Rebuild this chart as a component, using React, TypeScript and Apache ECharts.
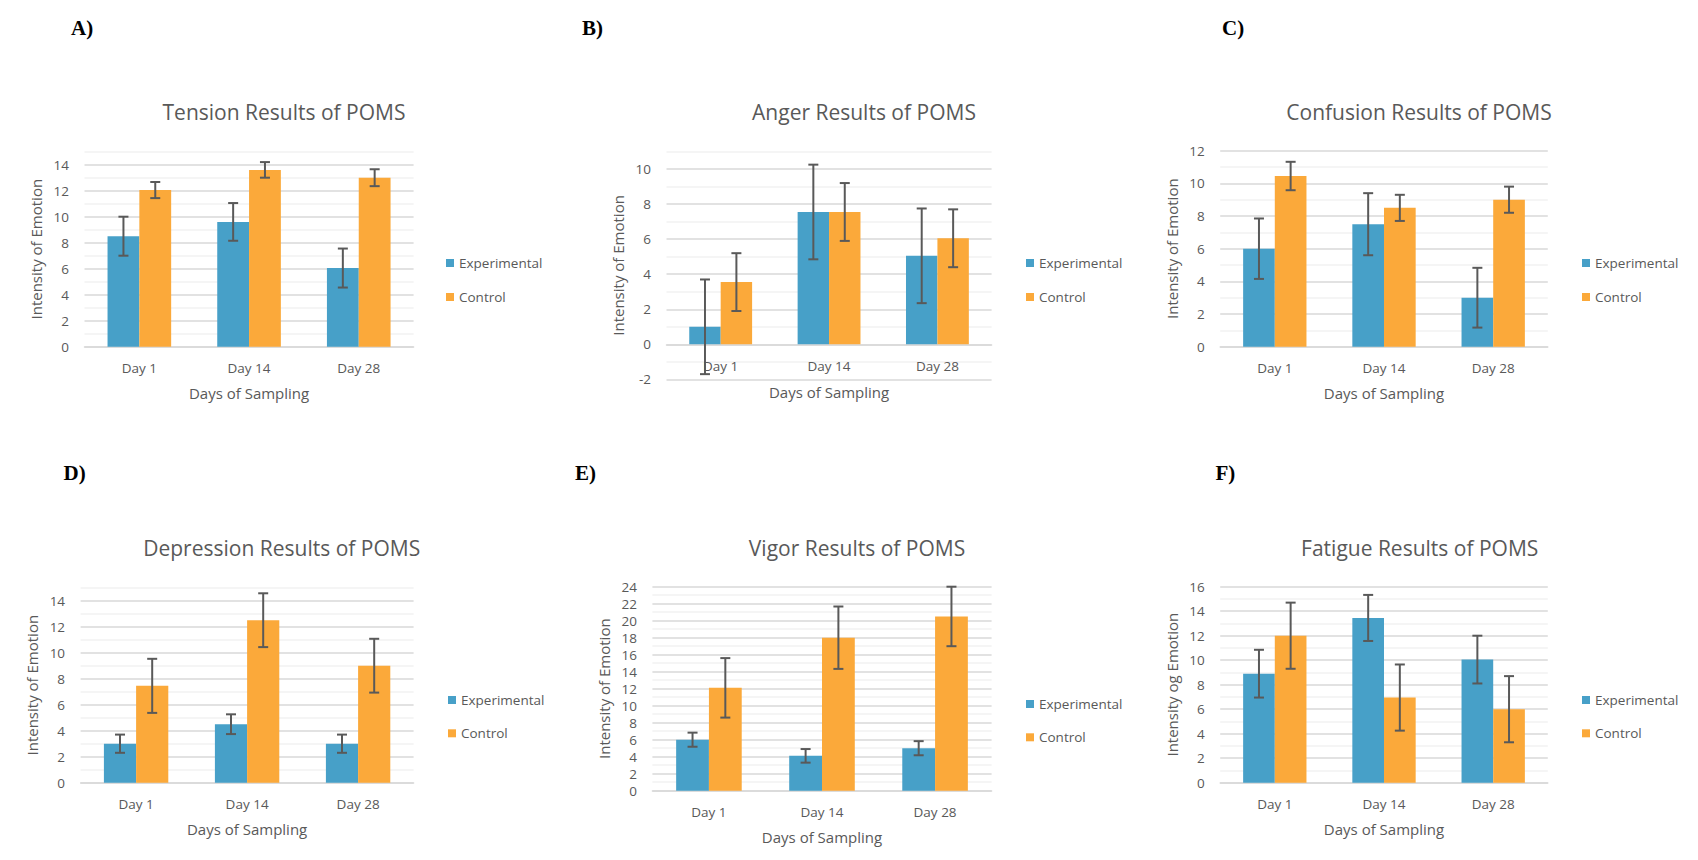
import React, { useEffect, useRef } from "react";
import * as echarts from "echarts";

// ---------- data ----------
const categories = ["Day 1", "Day 14", "Day 28"];
const seriesNames = ["Experimental", "Control"];

const tensionExp = [8.5, 9.6, 6.05];
const tensionExpErr = [1.5, 1.45, 1.5];
const tensionCtrl = [12.05, 13.6, 13.0];
const tensionCtrlErr = [0.62, 0.6, 0.65];

const angerExp = [1.0, 7.55, 5.05];
const angerExpErr = [2.7, 2.7, 2.7];
const angerCtrl = [3.55, 7.55, 6.05];
const angerCtrlErr = [1.65, 1.65, 1.65];

const confusionExp = [6.0, 7.5, 3.0];
const confusionExpErr = [1.85, 1.9, 1.83];
const confusionCtrl = [10.45, 8.5, 9.0];
const confusionCtrlErr = [0.87, 0.8, 0.8];

const depressionExp = [3.0, 4.5, 3.0];
const depressionExpErr = [0.7, 0.76, 0.7];
const depressionCtrl = [7.45, 12.5, 9.0];
const depressionCtrlErr = [2.08, 2.07, 2.07];

const vigorExp = [6.0, 4.1, 5.0];
const vigorExpErr = [0.83, 0.8, 0.83];
const vigorCtrl = [12.1, 18.0, 20.5];
const vigorCtrlErr = [3.5, 3.67, 3.5];

const fatigueExp = [8.9, 13.45, 10.05];
const fatigueExpErr = [1.95, 1.88, 1.95];
const fatigueCtrl = [12.0, 6.95, 6.0];
const fatigueCtrlErr = [2.7, 2.7, 2.7];

const panelLetters = ["A)", "B)", "C)", "D)", "E)", "F)"];
const panelTitles = [
  "Tension Results of POMS",
  "Anger Results of POMS",
  "Confusion Results of POMS",
  "Depression Results of POMS",
  "Vigor Results of POMS",
  "Fatigue Results of POMS",
];
const yAxisNames = [
  "Intensity of Emotion",
  "Intensity of Emotion",
  "Intensity of Emotion",
  "Intensity of Emotion",
  "Intensity of Emotion",
  "Intensity og Emotion",
];
const yMins = [0, -2, 0, 0, 0, 0];
const yMaxs = [15, 11, 12, 15, 24, 16];
const xAxisName = "Days of Sampling";

const panelData = [
  [tensionExp, tensionExpErr, tensionCtrl, tensionCtrlErr],
  [angerExp, angerExpErr, angerCtrl, angerCtrlErr],
  [confusionExp, confusionExpErr, confusionCtrl, confusionCtrlErr],
  [depressionExp, depressionExpErr, depressionCtrl, depressionCtrlErr],
  [vigorExp, vigorExpErr, vigorCtrl, vigorCtrlErr],
  [fatigueExp, fatigueExpErr, fatigueCtrl, fatigueCtrlErr],
];

// ---------- layout / style ----------
const layout = [
  { grid: { left: 84.5, top: 151.7, width: 329.1, height: 195 }, title: [284, 112], letter: [71, 28], legend: [446, 256, 20] },
  { grid: { left: 666.5, top: 151.5, width: 325.1, height: 227.9 }, title: [864, 112], letter: [582, 28], legend: [1026, 256, 20] },
  { grid: { left: 1220.2, top: 150.7, width: 327.6, height: 196 }, title: [1419, 112], letter: [1222, 28], legend: [1582, 256, 20] },
  { grid: { left: 80.6, top: 587.7, width: 333, height: 195 }, title: [281.7, 548.3], letter: [63.5, 473.3], legend: [448, 693, 19.3] },
  { grid: { left: 652.4, top: 586.7, width: 339.2, height: 204 }, title: [857, 548.3], letter: [575, 473.3], legend: [1026, 697, 19.3] },
  { grid: { left: 1220.2, top: 586.7, width: 327.6, height: 196 }, title: [1419.7, 548.3], letter: [1215.5, 473.3], legend: [1582, 693, 19.3] },
];

const BLUE = "#47A0C8";
const ORANGE = "#FBA93A";
const TEXT = "#595959";
const FONT = "'Open Sans', 'Noto Sans', sans-serif";
const GAP = 0.42;

function buildOption() {
  const grid: any[] = [];
  const xAxis: any[] = [];
  const yAxis: any[] = [];
  const series: any[] = [];
  const legend: any[] = [];
  const graphic: any[] = [];

  layout.forEach((L, i) => {
    grid.push({ ...L.grid, containLabel: false });
    // category axis sits on the zero line of the value axis
    const zeroOffset =
      yMins[i] < 0 ? -(L.grid.height * (0 - yMins[i])) / (yMaxs[i] - yMins[i]) : 0;
    xAxis.push({
      type: "category",
      gridIndex: i,
      data: categories,
      offset: zeroOffset,
      axisLine: { show: true, onZero: false, lineStyle: { color: "#d9d9d9", width: 1.5 } },
      axisTick: { show: false },
      axisLabel: { color: TEXT, fontSize: 13.5, fontFamily: FONT, margin: 14.5 },
      name: xAxisName,
      nameLocation: "middle",
      nameGap: i === 1 ? 40.5 : 38.5,
      nameTextStyle: { color: TEXT, fontSize: 15, fontFamily: FONT },
    });
    yAxis.push({
      type: "value",
      gridIndex: i,
      min: yMins[i],
      max: yMaxs[i],
      interval: 1,
      axisLine: { show: false },
      axisTick: { show: false },
      splitLine: { show: true, lineStyle: { color: ["#d9d9d9", "#f2f2f2"], width: 1.5 } },
      axisLabel: {
        color: TEXT,
        fontSize: 13.5,
        fontFamily: FONT,
        margin: 15.5,
        formatter: (v: number) => (Math.abs(Math.round(v)) % 2 === 0 ? String(Math.round(v)) : ""),
      },
      name: yAxisNames[i],
      nameLocation: "middle",
      nameGap: 41,
      nameTextStyle: { color: TEXT, fontSize: 15, fontFamily: FONT },
    });

    const [exp, expErr, ctrl, ctrlErr] = panelData[i];
    series.push({
      type: "bar",
      name: seriesNames[0],
      xAxisIndex: i,
      yAxisIndex: i,
      data: exp,
      barGap: "0%",
      barCategoryGap: GAP * 100 + "%",
      itemStyle: { color: BLUE },
    });
    series.push({
      type: "bar",
      name: seriesNames[1],
      xAxisIndex: i,
      yAxisIndex: i,
      data: ctrl,
      barGap: "0%",
      barCategoryGap: GAP * 100 + "%",
      itemStyle: { color: ORANGE },
    });
    const errData: number[][] = [];
    categories.forEach((_, c) => {
      errData.push([c, exp[c], expErr[c], -1]);
      errData.push([c, ctrl[c], ctrlErr[c], 1]);
    });
    series.push({
      type: "custom",
      name: "err" + i,
      xAxisIndex: i,
      yAxisIndex: i,
      z: 10,
      clip: false,
      data: errData,
      renderItem: (params: any, api: any) => {
        const cat = api.value(0);
        const v = api.value(1);
        const e = api.value(2);
        const side = api.value(3);
        const bandW = api.size([1, 0])[0];
        const barW = (bandW * (1 - GAP)) / 2;
        const cx = api.coord([cat, v])[0] + (side * barW) / 2;
        const yTop = api.coord([cat, v + e])[1];
        const yBot = api.coord([cat, v - e])[1];
        const half = 5;
        const style = { stroke: "#595959", lineWidth: 2 };
        return {
          type: "group",
          children: [
            { type: "line", shape: { x1: cx, y1: yTop, x2: cx, y2: yBot }, style },
            { type: "line", shape: { x1: cx - half, y1: yTop, x2: cx + half, y2: yTop }, style },
            { type: "line", shape: { x1: cx - half, y1: yBot, x2: cx + half, y2: yBot }, style },
          ],
        };
      },
    });

    legend.push({
      data: seriesNames,
      orient: "vertical",
      left: L.legend[0],
      top: L.legend[1],
      itemGap: L.legend[2],
      itemWidth: 8,
      itemHeight: 8,
      icon: "rect",
      padding: 0,
      selectedMode: false,
      textStyle: { color: TEXT, fontSize: 13.5, fontFamily: FONT, lineHeight: 14 },
    });

    graphic.push({
      type: "text",
      x: L.title[0],
      y: L.title[1],
      style: {
        text: panelTitles[i],
        fill: TEXT,
        font: `21px ${FONT}`,
        align: "center",
        verticalAlign: "middle",
      },
    });
    graphic.push({
      type: "text",
      x: L.letter[0],
      y: L.letter[1],
      style: {
        text: panelLetters[i],
        fill: "#000",
        font: `bold 21px 'Liberation Serif', 'Times New Roman', serif`,
        align: "left",
        verticalAlign: "middle",
      },
    });
  });

  return {
    animation: false,
    backgroundColor: "#ffffff",
    grid,
    xAxis,
    yAxis,
    series,
    legend,
    graphic,
  };
}

export default function App() {
  const ref = useRef<HTMLDivElement>(null);
  useEffect(() => {
    if (!ref.current) return;
    const chart = echarts.init(ref.current, undefined, { renderer: "svg" });
    chart.setOption(buildOption());
    return () => chart.dispose();
  }, []);
  return (
    <div
      ref={ref}
      style={{ position: "fixed", left: 0, top: 0, width: 1698, height: 860, background: "#fff" }}
    />
  );
}
